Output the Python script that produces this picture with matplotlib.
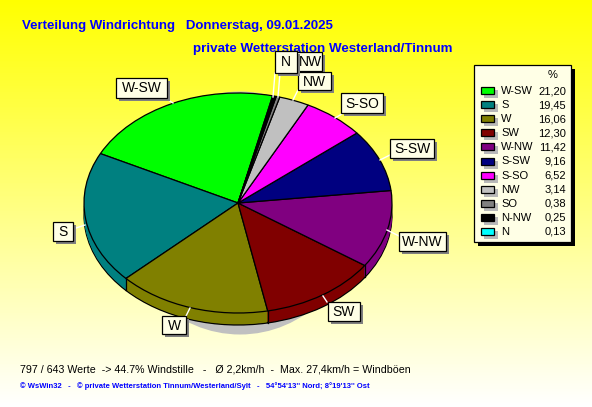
import numpy as np
import matplotlib
matplotlib.use("Agg")
import matplotlib.pyplot as plt
from matplotlib.patches import Ellipse, Rectangle
from matplotlib.colors import LinearSegmentedColormap

labels = ["W-SW", "S", "W", "SW", "W-NW", "S-SW", "S-SO", "NW", "SO", "N-NW", "N"]
values = [21.20, 19.45, 16.06, 12.30, 11.42, 9.16, 6.52, 3.14, 0.38, 0.25, 0.13]
value_text = ["21,20", "19,45", "16,06", "12,30", "11,42", "9,16", "6,52", "3,14", "0,38", "0,25", "0,13"]
colors = ["#00ff00", "#008080", "#808000", "#800000", "#800080", "#000080",
          "#ff00ff", "#c0c0c0", "#808080", "#000000", "#00ffff"]

W, H = 592, 407
cx, cy, rx, ry = 238, 203, 154, 110
depth = 12
start = 77

plt.rcParams["font.family"] = ["Liberation Sans", "DejaVu Sans"]
fig = plt.figure(figsize=(W / 100, H / 100), dpi=100)


def pixel_axes(z):
    a = fig.add_axes([0, 0, 1, 1], zorder=z)
    a.set_xlim(0, W)
    a.set_ylim(H, 0)
    a.axis("off")
    a.patch.set_alpha(0)
    return a


# background and shadow of the pie
ax = pixel_axes(0)
cmap = LinearSegmentedColormap.from_list("bg", ["#ffff00", "#ffffff"])
ax.imshow(np.linspace(0, 1, H).reshape(-1, 1), cmap=cmap, aspect="auto", extent=(0, W, H, 0))
ax.set_xlim(0, W)
ax.set_ylim(H, 0)
ax.add_patch(Ellipse((240, 213), 236, 243, color="#c0c0c0", lw=0))

# pie, ellipse units
pa = fig.add_axes([0, 0, 1, 1], zorder=1)
for d in range(depth, -1, -1):
    edge = "black" if d in (0, depth) else "none"
    wedges, _ = pa.pie(values, colors=colors, startangle=start, counterclock=True,
                       center=(0, -d / ry), radius=1,
                       wedgeprops=dict(edgecolor=edge, linewidth=0.9 if edge == "black" else 0))
pa.set_aspect("auto")
pa.set_xlim(-cx / rx, (W - cx) / rx)
pa.set_ylim((cy - H) / ry, cy / ry)
pa.axis("off")
pa.patch.set_alpha(0)

# vertical edges of the wall
ang = np.deg2rad(start + np.cumsum(values) * 3.6)
for a in ang:
    if np.sin(a) < 0:
        pa.plot([np.cos(a)] * 2, [np.sin(a), np.sin(a) - depth / ry], color="black", lw=0.9)

top = pixel_axes(2)

top.text(22, 26, "Verteilung Windrichtung   Donnerstag, 09.01.2025", color="#0000ff",
         fontsize=9.57, fontweight="bold", va="center")
top.text(193, 49, "private Wetterstation Westerland/Tinnum", color="#0000ff",
         fontsize=9.6, fontweight="bold", va="center")

# callouts: box left, top, right, bottom and leader from box to pie edge
boxes = [
    ("W-SW", 116, 78, 167, 98, 165, 98, 173, 103),
    ("S", 53, 222, 73, 241, 73, 229, 85, 225),
    ("W", 162, 316, 186, 334, 186, 316, 190, 308),
    ("SW", 328, 302, 360, 321, 327, 302, 323, 296),
    ("W-NW", 399, 232, 446, 251, 399, 236, 387, 230),
    ("S-SW", 390, 139, 434, 158, 390, 155, 380, 160),
    ("S-SO", 341, 93, 383, 113, 342, 114, 335, 118),
    ("NW", 285, 52, 322, 71, 280, 73, 278, 97),
    ("NW", 298, 72, 331, 90, 298, 90, 293, 100),
    ("N", 275, 51, 297, 73, 275, 73, 273, 97),
]
for i, (name, x0, y0, x1, y1, lx, ly, px, py) in enumerate(boxes):
    z = 3 + i
    top.plot([lx, px], [ly, py], color="white", lw=1, zorder=2)
    top.add_patch(Rectangle((x0 + 3, y0 + 3), x1 - x0, y1 - y0, color="#808080", lw=0, zorder=z))
    top.add_patch(Rectangle((x0, y0), x1 - x0, y1 - y0, fc="#ffffe6", ec="black", lw=0.9, zorder=z))
    tx = 310 if (x0 == 285) else (x0 + x1) / 2
    top.text(tx, (y0 + y1) / 2 + 0.5, name, fontsize=10, ha="center", va="center", color="black", zorder=z)

# legend
top.add_patch(Rectangle((478, 69), 97, 177, color="black", lw=0))
top.add_patch(Rectangle((474, 65), 97, 177, fc="#ffffe6", ec="black", lw=0.9))
top.text(553, 75, "%", fontsize=8, ha="center", va="center")
for i in range(len(labels)):
    y = 91 + i * 14.1
    top.add_patch(Rectangle((484, y - 1), 14, 8, color="#b8b8b8", lw=0))
    top.add_patch(Rectangle((481, y - 4), 13, 7, fc=colors[i], ec="black", lw=0.9))
    top.text(501, y, labels[i], fontsize=8, va="center")
    top.text(566, y, value_text[i], fontsize=8, ha="right", va="center")

top.text(20, 369, "797 / 643 Werte  -> 44.7% Windstille   -   \u00d8 2,2km/h  -  Max. 27,4km/h = Windb\u00f6en",
         fontsize=7.7, va="center", color="black")
top.text(20, 386, "\u00a9 WsWin32   -   \u00a9 private Wetterstation Tinnum/Westerland/Sylt   -   54\u00b054'13'' Nord; 8\u00b019'13'' Ost",
         fontsize=5.52, va="center", color="#0000ff", fontweight="bold")

fig.savefig("out.png", dpi=100)
